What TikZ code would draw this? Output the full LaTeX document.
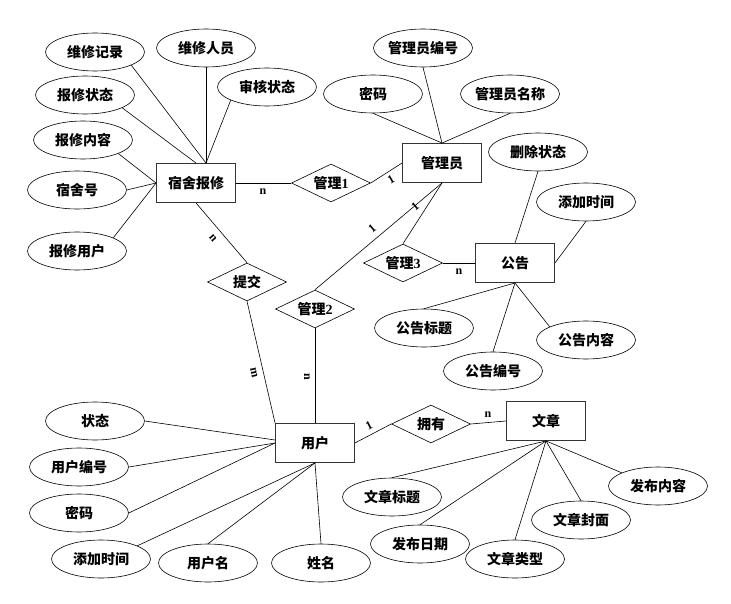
\documentclass[tikz,border=0pt]{standalone}
\usepackage{fontspec}
\setmainfont{Liberation Serif}
\newfontfamily\cjk{Noto Sans CJK SC}
\usetikzlibrary{shapes.geometric}
\tikzset{
  cjkfont/.style={font=\cjk\bfseries\fontsize{14}{14}\selectfont},
  attr/.style={ellipse, draw=black, line width=0.6pt, minimum width=99pt, minimum height=38pt, inner sep=0pt, cjkfont},
  ent/.style={rectangle, draw=black!80, line width=0.9pt, minimum width=79pt, minimum height=39pt, inner sep=0pt, cjkfont},
  rel/.style={diamond, draw=black, line width=0.6pt, minimum width=79pt, minimum height=38pt, inner sep=0pt, aspect=2, cjkfont},
  lnk/.style={line width=0.6pt},
  card/.style={font=\bfseries\fontsize{12}{12}\selectfont, inner sep=0pt}
}
\begin{document}
\begin{tikzpicture}[x=1pt,y=-1pt]
\useasboundingbox (0,0) rectangle (731,604);
% entities
\node[ent] (r1) at (196,183) {宿舍报修};
\node[ent] (r2) at (442,163) {管理员};
\node[ent] (r3) at (515,263) {公告};
\node[ent] (r4) at (315,443) {用户};
\node[ent] (r5) at (546,421) {文章};
% relations
\node[rel] (d1) at (331,183) {管理{\rmfamily\bfseries 1}};
\node[rel] (d2) at (247,282) {提交};
\node[rel] (d3) at (315,309) {管理{\rmfamily\bfseries 2}};
\node[rel] (d4) at (403,263) {管理{\rmfamily\bfseries 3}};
\node[rel] (d5) at (431,424) {拥有};
% attributes
\node[attr] (a1) at (95,52) {维修记录};
\node[attr] (a2) at (206,48) {维修人员};
\node[attr] (a3) at (267,87) {审核状态};
\node[attr] (a4) at (85,95) {报修状态};
\node[attr] (a5) at (83,140) {报修内容};
\node[attr] (a6) at (77,190) {宿舍号};
\node[attr] (a7) at (77,251) {报修用户};
\node[attr] (b1) at (423,48) {管理员编号};
\node[attr] (b2) at (373,94) {密码};
\node[attr] (b3) at (510,94) {管理员名称};
\node[attr] (c1) at (538,152) {删除状态};
\node[attr] (c2) at (586,202) {添加时间};
\node[attr] (c3) at (424,328) {公告标题};
\node[attr] (c4) at (493,371) {公告编号};
\node[attr] (c5) at (586,340) {公告内容};
\node[attr] (u1) at (95,421) {状态};
\node[attr] (u2) at (79,467) {用户编号};
\node[attr] (u3) at (79,513) {密码};
\node[attr] (u4) at (101,559) {添加时间};
\node[attr] (u5) at (208,563) {用户名};
\node[attr] (u6) at (321,563) {姓名};
\node[attr] (w1) at (392,497) {文章标题};
\node[attr] (w2) at (420,544) {发布日期};
\node[attr] (w3) at (515,559) {文章类型};
\node[attr] (w4) at (581,520) {文章封面};
\node[attr] (w5) at (658,486) {发布内容};
% attribute links
\draw[lnk] (a1.-20) -- ([xshift=10pt]r1.north);
\draw[lnk] (a2.south) -- ([xshift=10pt]r1.north);
\draw[lnk] (a3.200) -- ([xshift=10pt]r1.north);
\draw[lnk] (a4.-19) -- (r1.north);
\draw[lnk] (a5.-21) -- (r1.west);
\draw[lnk] (a6.east) -- (r1.west);
\draw[lnk] (a7.20) -- (r1.west);
\draw[lnk] (b1.south) -- (r2.north);
\draw[lnk] (b2.south) -- (r2.north);
\draw[lnk] (b3.south) -- (r2.north);
\draw[lnk] (c1.south) -- (r3.north);
\draw[lnk] (c2.south) -- (r3.east);
\draw[lnk] (c3.north) -- (r3.south);
\draw[lnk] (c4.north) -- (r3.south);
\draw[lnk] (c5.160) -- (r3.south);
\draw[lnk] (u1.east) -- ([yshift=3pt]r4.west);
\draw[lnk] (u2.east) -- (r4.west);
\draw[lnk] (u3.east) -- (r4.west);
\draw[lnk] (u4.20) -- (r4.south);
\draw[lnk] (u5.north) -- (r4.south);
\draw[lnk] (u6.north) -- (r4.south);
\draw[lnk] (w1.north) -- (r5.south);
\draw[lnk] (w2.north) -- (r5.south);
\draw[lnk] (w3.north) -- (r5.south);
\draw[lnk] (w4.north) -- (r5.south);
\draw[lnk] (w5.160) -- (r5.south);
% relationship links
\draw[lnk] (r1.east) -- (d1.west);
\draw[lnk] (r1.south) -- (d2.north);
\draw[lnk] (d1.east) -- (r2.west);
\draw[lnk] (r2.south) -- (d4.north);
\draw[lnk] (r2.south) -- (d3.north);
\draw[lnk] (d4.east) -- (r3.west);
\draw[lnk] (d2.south) -- (r4.north west);
\draw[lnk] (d3.south) -- (r4.north);
\draw[lnk] (r4.east) -- (d5.west);
\draw[lnk] (d5.east) -- (r5.west);
% cardinalities
\node[card] (k1) at (263,192) {n};
\node[card, rotate=-50] (k2) at (213,238) {n};
\node[card, rotate=30] (k3) at (391,180) {1};
\node[card, rotate=40] (k4) at (415,207) {1};
\node[card, rotate=40] (k5) at (372,229) {1};
\node[card] (k6) at (459,272) {n};
\node[card, rotate=-78] (k7) at (254,373) {m};
\node[card, rotate=-90] (k8) at (307,377) {n};
\node[card, rotate=27] (k9) at (369,426) {1};
\node[card] (k10) at (488,415) {n};
\end{tikzpicture}
\end{document}
